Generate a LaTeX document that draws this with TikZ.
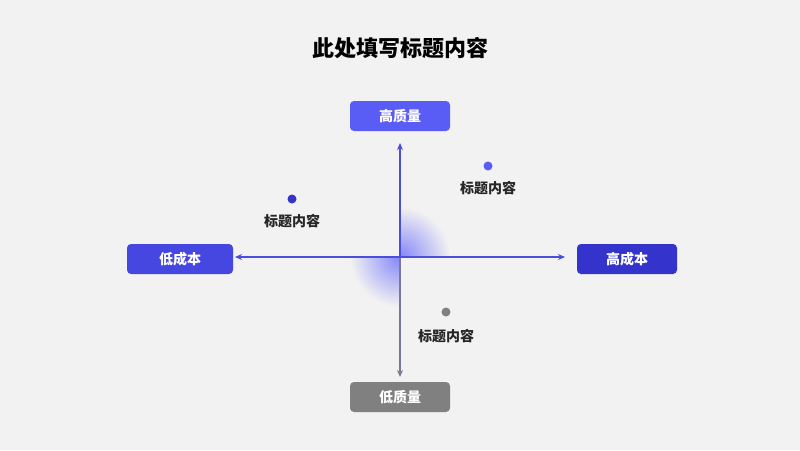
\documentclass[tikz,border=0pt]{standalone}
\usepackage{fontspec}
\setmainfont{Noto Sans CJK SC}
\usetikzlibrary{arrows.meta}
\definecolor{bgc}{HTML}{F2F2F2}
\definecolor{blueA}{HTML}{5A5CF6}
\definecolor{blueB}{HTML}{4646E0}
\definecolor{blueC}{HTML}{3434CC}
\definecolor{axisB}{HTML}{4B4EDB}
\definecolor{grayA}{HTML}{808080}
\tikzset{
  labelbox/.style={rounded corners=4pt, minimum width=100pt, minimum height=30pt,
    text=white, font=\fontsize{14}{16}\selectfont\bfseries},
  dot/.style={circle, inner sep=0pt, minimum size=9pt},
  dotlabel/.style={font=\fontsize{14}{16}\selectfont\bfseries, text=black!85},
  axisline/.style={line width=1.3pt, -{Stealth[length=7pt,width=6pt]}}
}
\begin{document}
\begin{tikzpicture}[x=1pt,y=-1pt]
  \fill[bgc] (0,0) rectangle (800,450);
  \useasboundingbox (0,0) rectangle (800,450);
  % glow at the centre
  \begin{scope}
    \clip (400,257) rectangle (450,207);
    \shade[inner color=blueA!75, outer color=bgc] (400,257) circle (50);
  \end{scope}
  \begin{scope}
    \clip (400,257) rectangle (350,307);
    \shade[inner color=blueA!75, outer color=bgc] (400,257) circle (50);
  \end{scope}
  \node[font=\fontsize{22}{26}\selectfont\bfseries] (title) at (400,48) {此处填写标题内容};
  \node[labelbox, fill=blueA] (top) at (400,116) {高质量};
  \node[labelbox, fill=grayA] (bottom) at (400,397) {低质量};
  \node[labelbox, fill=blueB, minimum width=106pt] (left) at (180,259) {低成本};
  \node[labelbox, fill=blueC] (right) at (627,259) {高成本};
  \coordinate (c) at (400,257);
  \coordinate (up) at (400,143);
  \coordinate (down) at (400,377);
  \coordinate (west) at (235,257);
  \coordinate (east) at (565,257);
  \draw[axisline, axisB] (c) -- (up);
  \draw[axisline, grayA!80!blueA] (c) -- (down);
  \draw[axisline, axisB] (c) -- (west);
  \draw[axisline, axisB] (c) -- (east);
  \node[dot, fill=blueA] (d1) at (488,166) {};
  \node[dotlabel] (l1) at (488,188) {标题内容};
  \node[dot, fill=blueC] (d2) at (292,199) {};
  \node[dotlabel] (l2) at (292,221) {标题内容};
  \node[dot, fill=grayA] (d3) at (446,312) {};
  \node[dotlabel] (l3) at (446,336) {标题内容};
\end{tikzpicture}
\end{document}
